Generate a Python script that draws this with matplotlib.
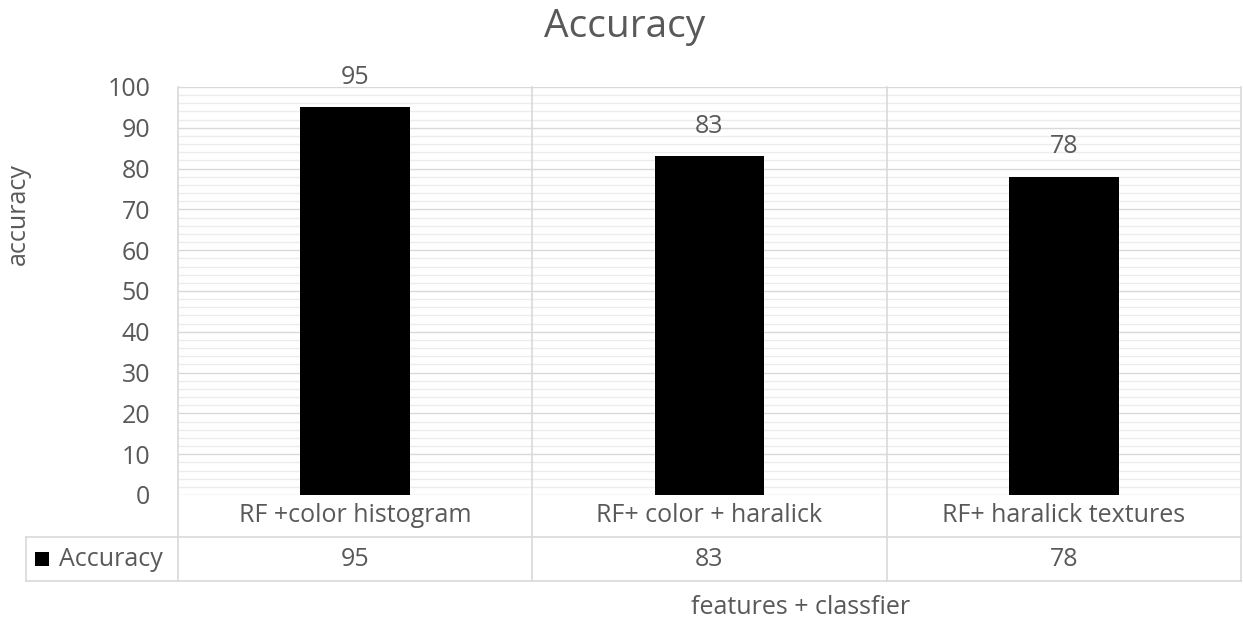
import matplotlib
matplotlib.use("Agg")
import matplotlib.pyplot as plt
from matplotlib.patches import Rectangle
import numpy as np

categories = ["RF +color histogram", "RF+ color + haralick", "RF+ haralick textures"]
accuracy = [95, 83, 78]
series_name = "Accuracy"
y_ticks = [0, 10, 20, 30, 40, 50, 60, 70, 80, 90, 100]

plt.rcParams["font.family"] = ["Open Sans", "DejaVu Sans"]
TEXT = "#595959"
MAJOR = "#d9d9d9"
MINOR = "#ececec"
FS = 18

W, H = 1243, 624
fig = plt.figure(figsize=(W / 100, H / 100), dpi=100)
left, right, top, bottom = 178, 1241, 87, 495
ax = fig.add_axes([left / W, 1 - bottom / H, (right - left) / W, (bottom - top) / H])

x = np.arange(len(categories))
ax.set_xlim(-0.5, len(categories) - 0.5)
ax.set_ylim(0, 100)

# gridlines: minor every 2, major every 10
for v in np.arange(0, 101, 2):
    if v % 10:
        ax.axhline(v, color=MINOR, lw=1.0, zorder=0)
for v in y_ticks:
    ax.axhline(v, color=MAJOR, lw=1.0, zorder=0)

bars = ax.bar(x, accuracy, width=0.31, color="black", zorder=3)
for xi, v in zip(x, accuracy):
    ax.text(xi, v + 7.3, f"{v}", ha="center", va="center", fontsize=FS, color=TEXT, clip_on=False)

for s in ax.spines.values():
    s.set_visible(False)
ax.set_xticks([])
ax.set_yticks(y_ticks)
ax.set_yticklabels([str(t) for t in y_ticks], fontsize=FS, color=TEXT)
ax.tick_params(axis="y", length=0, pad=20)

# data table below the plot (axes fraction units)
h_ax = bottom - top
r1 = -(537 - bottom) / h_ax
r2 = -(581 - bottom) / h_ax
trans = ax.get_xaxis_transform()
lw = 1.2
for b in [-0.5, 0.5, 1.5, 2.5]:
    ax.plot([b, b], [1, r2], transform=trans, color=MAJOR, lw=lw, clip_on=False, zorder=1)
xl = -0.5 - (left - 26) / ((right - left) / len(categories))
ax.plot([xl, 2.5], [r1, r1], transform=trans, color=MAJOR, lw=lw, clip_on=False)
ax.plot([xl, 2.5], [r2, r2], transform=trans, color=MAJOR, lw=lw, clip_on=False)
ax.plot([xl, xl], [r1, r2], transform=trans, color=MAJOR, lw=lw, clip_on=False)

for xi, c, v in zip(x, categories, accuracy):
    ax.text(xi, r1 / 2, c, transform=trans, ha="center", va="center", fontsize=FS, color=TEXT)
    ax.text(xi, (r1 + r2) / 2, str(v), transform=trans, ha="center", va="center", fontsize=FS, color=TEXT)

# legend key + series name in the first table cell
fig.add_artist(Rectangle((35 / W, 1 - 566 / H), 14 / W, 14 / H, transform=fig.transFigure,
                         facecolor="black", edgecolor="none"))
fig.text(59 / W, 1 - 559 / H, series_name, ha="left", va="center", fontsize=FS, color=TEXT)

fig.text(625 / W, 1 - 27 / H, "Accuracy", ha="center", va="center", fontsize=28, color=TEXT)
fig.text(18 / W, 1 - 214 / H, "accuracy", ha="center", va="center", rotation=90, fontsize=FS, color=TEXT)
fig.text(801 / W, 1 - 608 / H, "features + classfier", ha="center", va="center", fontsize=FS, color=TEXT)

fig.savefig("out.png", dpi=100)
